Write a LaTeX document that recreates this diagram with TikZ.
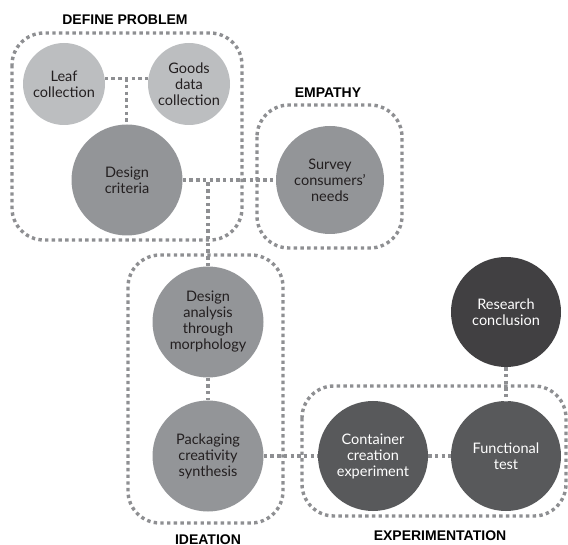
\documentclass[tikz,border=0pt]{standalone}
\usepackage{fontspec}
\setmainfont{Lato}
\newfontfamily\headfont{Liberation Sans}
\usetikzlibrary{calc}

\definecolor{dotgrey}{HTML}{8E8F92}
\definecolor{lightfill}{HTML}{BCBEC0}
\definecolor{midfill}{HTML}{939598}
\definecolor{darkfill}{HTML}{58595B}
\definecolor{darkerfill}{HTML}{414042}
\definecolor{inktext}{HTML}{231F20}

\tikzset{
  dotline/.style={draw=dotgrey, line width=3.4pt, dash pattern=on 3.4pt off 3.3pt},
  groupbox/.style={dotline, rounded corners=32pt},
  stage/.style={circle, inner sep=0pt, align=center,
    font=\fontsize{14.5}{16}\selectfont},
  lightstage/.style={stage, fill=lightfill, text=inktext, minimum size=82pt},
  midstage/.style={stage, fill=midfill, text=inktext, minimum size=111pt},
  darkstage/.style={stage, fill=darkfill, text=white, minimum size=110pt},
  darkerstage/.style={stage, fill=darkerfill, text=white, minimum size=110pt},
  grouplabel/.style={font=\headfont\bfseries\fontsize{14}{16}\selectfont, text=black, inner sep=0pt}
}

\begin{document}
\begin{tikzpicture}[x=1pt, y=-1pt]
\useasboundingbox (0,0) rectangle (568,545);

% group frames
\draw[groupbox] (12,33) rectangle (242,240);
\draw[groupbox] (257,105) rectangle (402,248);
\draw[groupbox] (128,255) rectangle (283,523);
\draw[groupbox] (302,386) rectangle (566,516);

% group titles
\node[grouplabel] (defineLbl) at (125,20) {DEFINE PROBLEM};
\node[grouplabel] (empathyLbl) at (328,93) {EMPATHY};
\node[grouplabel, anchor=north] (ideationLbl) at (208,535) {IDEATION};
\node[grouplabel] (experimentLbl) at (440,536) {EXPERIMENTATION};

% stage centres
\path
  (64,84)   coordinate (pLeaf)
  (189,84)  coordinate (pGoods)
  (127,180) coordinate (pCriteria)
  (330,180) coordinate (pSurvey)
  (208,322) coordinate (pAnalysis)
  (208,456) coordinate (pPackaging)
  (373,456) coordinate (pContainer)
  (506,456) coordinate (pFunctional)
  (506,312) coordinate (pResearch);

\node[lightstage] (leaf) at (pLeaf) {Leaf\\collection};
\node[lightstage] (goods) at (pGoods) {Goods\\data\\collection};
\node[midstage] (criteria) at (pCriteria) {Design\\criteria};
\node[midstage, minimum size=108pt] (survey) at (pSurvey) {Survey\\consumers’\\needs};
\node[midstage] (analysis) at (pAnalysis) {Design\\analysis\\through\\morphology};
\node[midstage] (packaging) at (pPackaging) {Packaging\\creativity\\synthesis};
\node[darkstage] (container) at (pContainer) {Container\\creation\\experiment};
\node[darkstage] (functional) at (pFunctional) {Functional\\test};
\node[darkerstage] (research) at (pResearch) {Research\\conclusion};

% connectors
\draw[dotline] (leaf.8) -- coordinate (leafGoodsMid) (goods.172);
\draw[dotline] (leafGoodsMid) -- (leafGoodsMid |- criteria.north);
\draw[dotline] (criteria) -- (survey);
\draw[dotline] (analysis.north) -- (analysis.north |- criteria.east);
\draw[dotline] (analysis) -- (packaging);
\draw[dotline] (packaging) -- (container);
\draw[dotline] (container) -- (functional);
\draw[dotline] (research) -- (functional);
\end{tikzpicture}
\end{document}
